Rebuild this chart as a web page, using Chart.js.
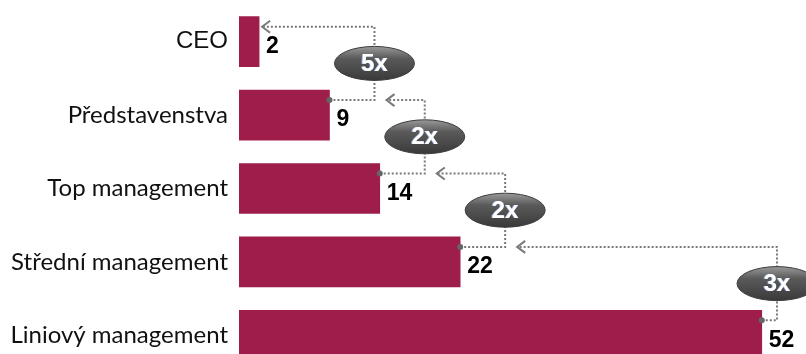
<!DOCTYPE html>
<html>
<head>
<meta charset="utf-8">
<script src="https://cdn.jsdelivr.net/npm/chart.js@4/dist/chart.umd.min.js"></script>
<style>
  html, body { margin: 0; padding: 0; background: #fff; overflow: hidden; }
  #wrap { width: 806px; height: 354px; overflow: hidden; }
</style>
</head>
<body>
<div id="wrap"><canvas id="barChart" width="806" height="372"></canvas></div>
<script>
var categories = ['CEO', 'Představenstva', 'Top management', 'Střední management', 'Liniový management'];
var counts = [2, 9, 14, 22, 52];
var ratios = ['5x', '2x', '2x', '3x'];

var barColor = '#9F1D4B';
var lineColor = '#7a7a7a';

// dotted step connectors between neighbouring bars, with the ratio badge on each
var ratioConnectors = {
    id: 'ratioConnectors',
    afterDatasetsDraw: function (chart) {
        var ctx = chart.ctx;
        var xs = chart.scales.x, ys = chart.scales.y;
        var right = chart.chartArea.right;
        var ends = counts.map(function (v) { return xs.getPixelForValue(v); });
        var rows = categories.map(function (c, i) { return ys.getPixelForValue(i); });

        ctx.save();
        // value labels next to the bars
        ctx.font = 'bold 23px "Liberation Sans", Arial, sans-serif';
        ctx.fillStyle = '#000';
        ctx.textAlign = 'left';
        ctx.textBaseline = 'middle';
        counts.forEach(function (v, i) {
            ctx.fillText(String(v), ends[i] + 7, rows[i] + 5);
        });

        var prevVert = null;
        ratios.forEach(function (r, i) {
            var yTop = rows[i] - 15;
            var yBot = rows[i + 1] - 15;
            var startX = ends[i + 1];
            var vx = Math.min(startX + 45, right - 29);
            var tipX = i === 0 ? ends[0] + 3 : Math.max(prevVert + 12, ends[i] + 3);

            ctx.strokeStyle = lineColor;
            ctx.lineWidth = 2;
            ctx.setLineDash([2, 2]);
            ctx.beginPath();
            ctx.moveTo(startX, yBot);
            ctx.lineTo(vx, yBot);
            ctx.lineTo(vx, yTop);
            ctx.lineTo(tipX, yTop);
            ctx.stroke();

            // open arrow head
            ctx.setLineDash([]);
            ctx.beginPath();
            ctx.moveTo(tipX + 8, yTop - 6);
            ctx.lineTo(tipX, yTop);
            ctx.lineTo(tipX + 8, yTop + 6);
            ctx.stroke();

            // start dot on the bar end
            ctx.fillStyle = '#666';
            ctx.beginPath();
            ctx.arc(startX, yBot, 3, 0, Math.PI * 2);
            ctx.fill();

            // badge
            var cy = (yTop + yBot) / 2;
            var g = ctx.createLinearGradient(0, cy - 17, 0, cy + 17);
            g.addColorStop(0, '#9a9a9a');
            g.addColorStop(0.35, '#5a5a5a');
            g.addColorStop(1, '#3a3a3a');
            ctx.fillStyle = g;
            ctx.beginPath();
            ctx.ellipse(vx, cy, 40, 17, 0, 0, Math.PI * 2);
            ctx.fill();
            ctx.strokeStyle = '#3c3c3c';
            ctx.lineWidth = 1;
            ctx.stroke();

            ctx.font = 'bold 24px "Liberation Sans", Arial, sans-serif';
            ctx.textAlign = 'center';
            ctx.textBaseline = 'middle';
            ctx.fillStyle = '#9bb4e0';
            ctx.fillText(r, vx - 1, cy + 1);
            ctx.fillStyle = '#fff';
            ctx.fillText(r, vx, cy + 1);
            ctx.textAlign = 'left';

            prevVert = vx;
        });
        ctx.restore();
    }
};

var ctx = document.getElementById('barChart').getContext('2d');
var barChart = new Chart(ctx, {
    type: 'bar',
    data: {
        labels: categories,
        datasets: [{
            data: counts,
            backgroundColor: barColor,
            borderWidth: 0,
            barThickness: 50
        }]
    },
    options: {
        indexAxis: 'y',
        responsive: false,
        animation: false,
        devicePixelRatio: 1,
        layout: { padding: { top: 5, right: 0, bottom: 0, left: 0 } },
        plugins: {
            legend: { display: false },
            tooltip: { enabled: false }
        },
        scales: {
            x: {
                display: false,
                min: 0,
                max: 56.4
            },
            y: {
                grid: { display: false, drawTicks: false },
                border: { display: false },
                afterFit: function (scale) {
                    scale.width = 239;
                    scale.paddingTop = 0;
                    scale.paddingBottom = 0;
                },
                ticks: {
                    padding: 11,
                    color: '#111',
                    font: function (c) {
                        return c.index === 0
                            ? { family: '"Liberation Sans", Arial, sans-serif', size: 24 }
                            : { family: 'Lato, sans-serif', size: 24 };
                    }
                }
            }
        }
    },
    plugins: [ratioConnectors]
});
</script>
</body>
</html>
